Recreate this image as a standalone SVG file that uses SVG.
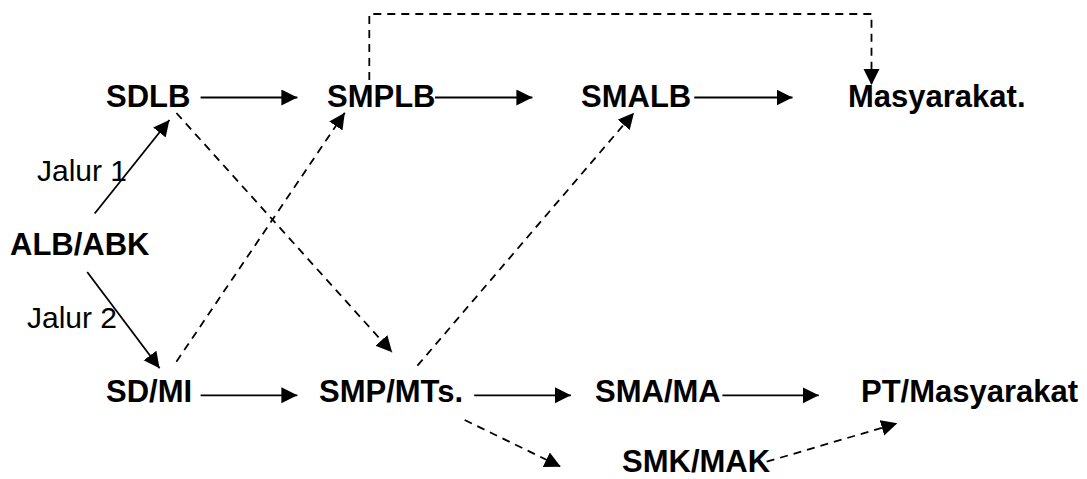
<svg xmlns="http://www.w3.org/2000/svg" width="1087" height="479" viewBox="0 0 1087 479">
<style>
.lbl{font-family:"Liberation Sans",Arial,sans-serif;font-size:31px;font-weight:bold;fill:#000}
.jal{font-family:"Liberation Sans",Arial,sans-serif;font-size:30px;fill:#000}
.solid{stroke:#000;stroke-width:1.8;fill:none;marker-end:url(#ah)}
.dash{stroke:#000;stroke-width:1.8;fill:none;stroke-dasharray:8 6;marker-end:url(#ah)}
</style>
<defs>
<marker id="ah" markerUnits="userSpaceOnUse" markerWidth="17" markerHeight="17" refX="16" refY="8" orient="auto">
<path d="M0,0 L16,8 L0,16 Z" fill="#000"/>
</marker>
</defs>
<rect width="1087" height="479" fill="#fff"/>
<g id="connectors">
<line class="solid" x1="200.6" y1="97.5" x2="297.4" y2="97.5"/>
<line class="solid" x1="435" y1="97.5" x2="532.4" y2="97.5"/>
<line class="solid" x1="694.3" y1="97.5" x2="792.5" y2="97.5"/>
<line class="solid" x1="200.6" y1="395.3" x2="297.4" y2="395.3"/>
<line class="solid" x1="474.2" y1="395.3" x2="570.9" y2="395.3"/>
<line class="solid" x1="722.4" y1="395.3" x2="818.8" y2="395.3"/>
<line class="solid" x1="94.7" y1="213.5" x2="169.4" y2="120"/>
<line class="solid" x1="87.2" y1="272" x2="159.6" y2="368.3"/>
<line class="dash" x1="176.4" y1="113" x2="392.1" y2="352.3"/>
<line class="dash" x1="176.4" y1="361.7" x2="344.8" y2="112.7"/>
<line class="dash" x1="417.4" y1="365.7" x2="634" y2="112.7"/>
<line class="dash" x1="464.7" y1="420" x2="560.7" y2="466.7"/>
<line class="dash" x1="766.7" y1="461.7" x2="897.3" y2="423.3"/>
<polyline class="dash" points="369.3,80 369.3,14 871.5,14 871.5,85"/>
</g>
<g id="sdlb"><text class="lbl" x="106" y="107">SDLB</text></g>
<g id="smplb"><text class="lbl" x="327" y="107">SMPLB</text></g>
<g id="smalb"><text class="lbl" x="581" y="107">SMALB</text></g>
<g id="masyarakat"><text class="lbl" x="848" y="107">Masyarakat.</text></g>
<g id="alb-abk"><text class="lbl" x="10" y="255">ALB/ABK</text></g>
<g id="jalur1"><text class="jal" x="37" y="181">Jalur 1</text></g>
<g id="jalur2"><text class="jal" x="27" y="328">Jalur 2</text></g>
<g id="sd-mi"><text class="lbl" x="106" y="402">SD/MI</text></g>
<g id="smp-mts"><text class="lbl" x="319" y="402">SMP/MTs.</text></g>
<g id="sma-ma"><text class="lbl" x="595" y="402">SMA/MA</text></g>
<g id="pt-masyarakat"><text class="lbl" x="861" y="402">PT/Masyarakat</text></g>
<g id="smk-mak"><text class="lbl" x="622" y="472">SMK/MAK</text></g>
</svg>
